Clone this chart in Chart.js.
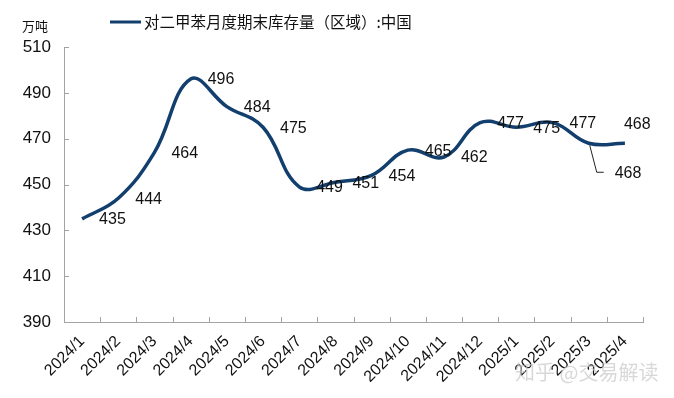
<!DOCTYPE html>
<html lang="zh">
<head>
  <meta charset="UTF-8">
  <title>对二甲苯月度期末库存量</title>
  <script src="https://cdn.jsdelivr.net/npm/chart.js"></script>
  <style>
    html, body { margin: 0; padding: 0; background: #fff; }
    #graphique { display: block; }
  </style>
</head>
<body>
  <canvas id="graphique" width="674" height="398"></canvas>

  <script>
    // données
    const mois = ['2024/1', '2024/2', '2024/3', '2024/4', '2024/5', '2024/6', '2024/7', '2024/8',
      '2024/9', '2024/10', '2024/11', '2024/12', '2025/1', '2025/2', '2025/3', '2025/4'];
    const stock = [435, 444, 464, 496, 484, 475, 449, 451, 454, 465, 462, 477, 475, 477, 468, 468];
    const yMin = 390;
    const yMax = 510;
    const yPas = 20;

    const serie = '对二甲苯月度期末库存量（区域）:中国';
    const unite = '万吨';
    const couleur = '#123f6d';
    const gris = '#a3a3a3';

    const annotations = {
      id: 'annotations',
      afterDatasetsDraw(chart) {
        const ctx = chart.ctx;
        const xs = chart.scales.x;
        const ys = chart.scales.y;
        const area = chart.chartArea;
        ctx.save();

        // petits traits vers l'intérieur
        ctx.strokeStyle = gris;
        ctx.lineWidth = 1;
        ctx.beginPath();
        ys.ticks.forEach((t, i) => {
          const y = Math.round(ys.getPixelForTick(i)) + 0.5;
          ctx.moveTo(area.left, y);
          ctx.lineTo(area.left + 5, y);
        });
        for (let i = 0; i <= mois.length; i++) {
          const x = Math.round(xs.getPixelForValue(i - 0.5)) + 0.5;
          ctx.moveTo(x, area.bottom);
          ctx.lineTo(x, area.bottom - 5);
        }
        ctx.stroke();

        // étiquettes des valeurs
        const meta = chart.getDatasetMeta(0);
        ctx.font = '16px "Liberation Sans", Arial, sans-serif';
        ctx.fillStyle = '#111';
        ctx.textBaseline = 'middle';
        ctx.textAlign = 'left';
        const n = meta.data.length;
        meta.data.forEach((p, i) => {
          const txt = String(stock[i]);
          if (i === n - 2) {
            ctx.strokeStyle = '#222';
            ctx.lineWidth = 1;
            ctx.beginPath();
            ctx.moveTo(p.x + 1, p.y + 2);
            ctx.lineTo(p.x + 8, p.y + 29);
            ctx.lineTo(p.x + 15, p.y + 29);
            ctx.stroke();
            ctx.fillText(txt, p.x + 26, p.y + 30);
          } else if (i === n - 1) {
            ctx.fillText(txt, p.x - 1, p.y - 19);
          } else {
            ctx.fillText(txt, p.x + 17, p.y + 1);
          }
        });

        // légende et unité
        ctx.strokeStyle = couleur;
        ctx.lineWidth = 3;
        ctx.beginPath();
        ctx.moveTo(110, 22);
        ctx.lineTo(141, 22);
        ctx.stroke();
        ctx.fillStyle = '#111';
        ctx.font = '15.5px "Noto Sans CJK SC", sans-serif';
        ctx.fillText(serie, 144, 22);
        ctx.font = '13px "Noto Sans CJK SC", sans-serif';
        ctx.fillText(unite, 22, 26);

        // filigrane
        ctx.font = '20px "Noto Sans CJK SC", sans-serif';
        ctx.fillStyle = 'rgba(200,200,200,0.7)';
        ctx.fillText('知乎 @交易解读', 515, 372);
        ctx.restore();
      }
    };

    const chart = new Chart(document.getElementById('graphique').getContext('2d'), {
      type: 'line',
      data: {
        labels: mois,
        datasets: [{
          label: serie,
          data: stock,
          borderColor: couleur,
          backgroundColor: couleur,
          borderWidth: 3.5,
          pointRadius: 0,
          tension: 0.4,
          fill: false
        }]
      },
      options: {
        responsive: false,
        animation: false,
        layout: { padding: { top: 47, right: 31, left: 0, bottom: 0 } },
        plugins: {
          legend: { display: false },
          tooltip: { enabled: false }
        },
        scales: {
          x: {
            offset: true,
            grid: { display: true, drawOnChartArea: false, drawTicks: false, offset: true },
            border: { color: gris, width: 1 },
            ticks: {
              minRotation: 45,
              maxRotation: 45,
              autoSkip: false,
              padding: 10,
              color: '#111',
              font: { family: '"Liberation Sans", Arial, sans-serif', size: 16 }
            },
            afterFit(scale) { scale.height = 76; }
          },
          y: {
            min: yMin,
            max: yMax,
            grid: { display: true, drawOnChartArea: false, drawTicks: false },
            border: { color: gris, width: 1 },
            ticks: {
              stepSize: yPas,
              padding: 13,
              color: '#111',
              font: { family: '"Liberation Sans", Arial, sans-serif', size: 17 }
            },
            afterFit(scale) { scale.width = 64; }
          }
        }
      },
      plugins: [annotations]
    });
  </script>
</body>
</html>
